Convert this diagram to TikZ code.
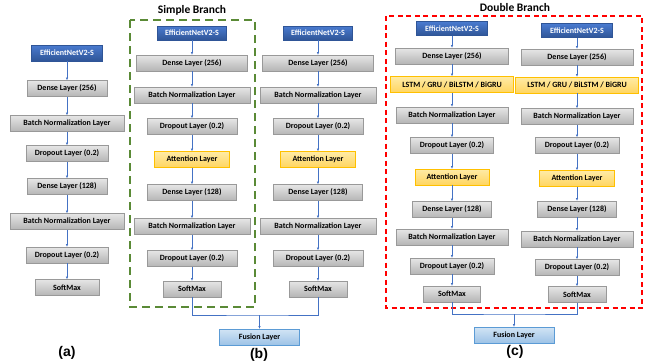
\documentclass[tikz,border=0pt]{standalone}
\usepackage{fontspec}
\setmainfont{Carlito}
\newfontfamily\capfont{Liberation Sans}
\usetikzlibrary{arrows.meta,shadows}

\definecolor{arrowblue}{HTML}{4472C4}
\definecolor{effblue}{HTML}{4A7BD0}
\definecolor{effdark}{HTML}{2F5597}
\definecolor{graytop}{HTML}{E6E6E6}
\definecolor{graybot}{HTML}{B5B5B5}
\definecolor{grayline}{HTML}{999999}
\definecolor{attntop}{HTML}{FFEBA6}
\definecolor{attnbot}{HTML}{FFD560}
\definecolor{attnline}{HTML}{FFC000}
\definecolor{fustop}{HTML}{D2E4F5}
\definecolor{fusbot}{HTML}{9DC3E6}
\definecolor{fusline}{HTML}{5B9BD5}
\definecolor{branchgreen}{HTML}{5A8A36}

\tikzset{
    layer/.style={draw=grayline, line width=0.4pt, top color=graytop, bottom color=graybot,
        minimum height=16pt, inner sep=0pt, font=\fontsize{8}{9}\selectfont\bfseries,
        drop shadow={shadow xshift=0.8pt, shadow yshift=-0.8pt, opacity=0.25}},
    effnet/.style={layer, draw=effdark, top color=effblue, bottom color=effdark, text=white,
        minimum height=14pt},
    attn/.style={layer, draw=attnline, top color=attntop, bottom color=attnbot},
    fusion/.style={layer, draw=fusline, top color=fustop, bottom color=fusbot, minimum height=16pt},
    flow/.style={draw=arrowblue, line width=0.5pt, -{Latex[length=2.6pt,width=2.4pt]}},
    merge/.style={draw=arrowblue, line width=0.7pt},
    title/.style={font=\fontsize{11.5}{13}\selectfont\bfseries},
    caption/.style={font=\capfont\fontsize{14}{16}\selectfont\bfseries},
}

\begin{document}
\begin{tikzpicture}[x=1pt, y=-1pt]
\useasboundingbox (0,0) rectangle (646,364);

% (a) baseline
\node[effnet, minimum width=71pt, minimum height=16pt] (a1) at (67,53) {EfficientNetV2-S};
\node[layer, minimum width=80pt] (a2) at (67,88.5) {Dense Layer (256)};
\node[layer, minimum width=114pt] (a3) at (67,123.5) {Batch Normalization Layer};
\node[layer, minimum width=82pt] (a4) at (67,153.5) {Dropout Layer (0.2)};
\node[layer, minimum width=80pt] (a5) at (67,186.5) {Dense Layer (128)};
\node[layer, minimum width=114pt] (a6) at (67,221.5) {Batch Normalization Layer};
\node[layer, minimum width=82pt] (a7) at (67,255) {Dropout Layer (0.2)};
\node[layer, minimum width=64pt] (a8) at (67,287.5) {SoftMax};
\foreach \i [count=\j from 2] in {1,...,7}
    \draw[flow] (a\i) -- (a\j);
\node[caption] (capa) at (67,353) {(a)};

% (b) simple branch
\foreach \c/\x in {b/192, p/318} {
    \node[effnet, minimum width=69pt] (\c1) at (\x,33) {EfficientNetV2-S};
    \node[layer, minimum width=111pt] (\c2) at (\x,63) {Dense Layer (256)};
    \node[layer, minimum width=116pt] (\c3) at (\x,95) {Batch Normalization Layer};
    \node[layer, minimum width=90pt] (\c4) at (\x,126.5) {Dropout Layer (0.2)};
    \node[attn, minimum width=75pt] (\c5) at (\x,159.5) {Attention Layer};
    \node[layer, minimum width=89pt] (\c6) at (\x,192.5) {Dense Layer (128)};
    \node[layer, minimum width=116pt] (\c7) at (\x,226.5) {Batch Normalization Layer};
    \node[layer, minimum width=90pt] (\c8) at (\x,258.5) {Dropout Layer (0.2)};
    \node[layer, minimum width=58pt] (\c9) at (\x,289) {SoftMax};
    \foreach \i [count=\j from 2] in {1,...,8}
        \draw[flow] (\c\i) -- (\c\j);
}
\draw[branchgreen, line width=1.6pt, dash pattern=on 8pt off 5pt] (130,20) rectangle (255,307);
\node[title] (simple) at (192,10) {Simple Branch};
\node[fusion, minimum width=80pt] (fb) at (259.5,337) {Fusion Layer};
\coordinate (jb) at (259.5,315);
\draw[merge] (b9.south) |- (jb) -| (p9.south);
\draw[flow] (jb) -- (fb);
\node[caption] (capb) at (259,355) {(b)};

% (c) double branch
\node[effnet, minimum width=71pt] (c1) at (452,28.5) {EfficientNetV2-S};
\node[layer, minimum width=113pt] (c2) at (452,56) {Dense Layer (256)};
\node[attn, minimum width=123pt] (c3) at (452,84.5) {LSTM / GRU / BiLSTM / BiGRU};
\node[layer, minimum width=112pt] (c4) at (452,115) {Batch Normalization Layer};
\node[layer, minimum width=83pt] (c5) at (452,145.5) {Dropout Layer (0.2)};
\node[attn, minimum width=74pt] (c6) at (452,177) {Attention Layer};
\node[layer, minimum width=79pt] (c7) at (452,209.5) {Dense Layer (128)};
\node[layer, minimum width=112pt] (c8) at (452,237) {Batch Normalization Layer};
\node[layer, minimum width=84pt] (c9) at (452,266) {Dropout Layer (0.2)};
\node[layer, minimum width=57pt] (c10) at (452,294) {SoftMax};

\node[effnet, minimum width=71pt] (d1) at (577,30.5) {EfficientNetV2-S};
\node[layer, minimum width=112pt] (d2) at (577,57) {Dense Layer (256)};
\node[attn, minimum width=123pt] (d3) at (577,85) {LSTM / GRU / BiLSTM / BiGRU};
\node[layer, minimum width=112pt] (d4) at (577,116.5) {Batch Normalization Layer};
\node[layer, minimum width=84pt] (d5) at (577,145.5) {Dropout Layer (0.2)};
\node[attn, minimum width=75pt] (d6) at (577,178.5) {Attention Layer};
\node[layer, minimum width=79pt] (d7) at (577,209) {Dense Layer (128)};
\node[layer, minimum width=112pt] (d8) at (577,239) {Batch Normalization Layer};
\node[layer, minimum width=84pt] (d9) at (577,267.5) {Dropout Layer (0.2)};
\node[layer, minimum width=58pt] (d10) at (577,294.5) {SoftMax};

\foreach \c in {c,d}
    \foreach \i [count=\j from 2] in {1,...,9}
        \draw[flow] (\c\i) -- (\c\j);
\draw[red, line width=1.2pt, dash pattern=on 5pt off 3.5pt] (386,16) rectangle (642,308);
\node[title] (double) at (515,7.5) {Double Branch};
\node[fusion, minimum width=80pt] (fc) at (514,335) {Fusion Layer};
\coordinate (jc) at (514,314);
\draw[merge] (c10.south) |- (jc) -| (d10.south);
\draw[flow] (jc) -- (fc);
\node[caption] (capc) at (515,352) {(c)};
\end{tikzpicture}
\end{document}
